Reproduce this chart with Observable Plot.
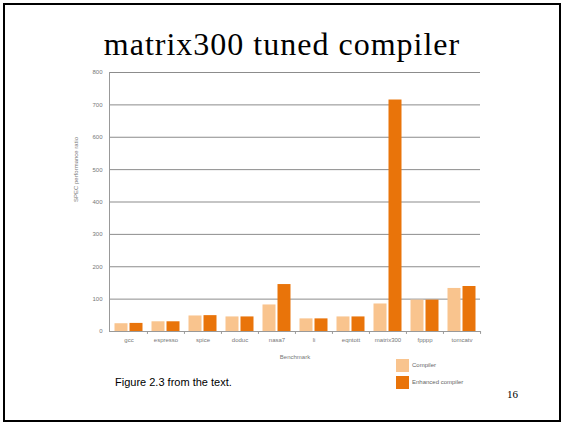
<!DOCTYPE html>
<html>
<head>
<meta charset="utf-8">
<script src="https://cdn.jsdelivr.net/npm/d3@7"></script>
<script src="https://cdn.jsdelivr.net/npm/@observablehq/plot@0.6"></script>
<style>
  html, body { margin: 0; padding: 0; background: #fff; }
  #slide { position: relative; width: 564px; height: 424px; overflow: hidden; background: #fff; }
  #frame { position: absolute; left: 3px; top: 3px; width: 554px; height: 415px; border: 2px solid #000; }
  #title { position: absolute; left: 0; width: 564px; top: 26px; text-align: center; line-height: 1.15;
           font-family: "Liberation Serif", "Times New Roman", serif; font-size: 32px; letter-spacing: 1px; color: #000; }
  #chart { position: absolute; left: 0; top: 0; }
  .leg { position: absolute; left: 396px; font-family: "Liberation Sans", Arial, sans-serif; font-size: 6px; color: #666; }
  .sw { display: inline-block; width: 13px; height: 13px; vertical-align: middle; margin-right: 3px; }
  #caption { position: absolute; left: 115px; top: 376px; font-family: "Liberation Sans", Arial, sans-serif; font-size: 11px; color: #000; }
  #page { position: absolute; left: 507px; top: 388px; font-family: "Liberation Serif", "Times New Roman", serif; font-size: 11px; color: #000; }
</style>
</head>
<body>
<div id="slide">
  <div id="frame"></div>
  <div id="title">matrix300 tuned compiler</div>
  <div id="chart"></div>
  <div class="leg" style="top:359px"><span class="sw" style="background:#F9C48E"></span>Compiler</div>
  <div class="leg" style="top:376px"><span class="sw" style="background:#E9740A"></span>Enhanced compiler</div>
  <div id="caption">Figure 2.3 from the text.</div>
  <div id="page">16</div>
</div>
<script>
const benchmarks = ["gcc", "espresso", "spice", "doduc", "nasa7", "li", "eqntott", "matrix300", "fpppp", "tomcatv"];
const compiler = [24, 30, 48, 45, 82, 39, 45, 85, 97, 133];
const enhanced = [25, 30, 49, 45, 145, 39, 45, 715, 97, 139];
const seriesNames = ["Compiler", "Enhanced compiler"];
const seriesColors = ["#F9C48E", "#E9740A"];
const yTicks = [0, 100, 200, 300, 400, 500, 600, 700, 800];

const compilerData = benchmarks.map((b, i) => ({benchmark: b, series: seriesNames[0], value: compiler[i]}));
const enhancedData = benchmarks.map((b, i) => ({benchmark: b, series: seriesNames[1], value: enhanced[i]}));

const chart = Plot.plot({
  width: 564,
  height: 424,
  marginLeft: 109,
  marginRight: 84,
  marginTop: 72,
  marginBottom: 93,
  style: {fontFamily: "Liberation Sans, Arial, sans-serif", background: "transparent"},
  x: {domain: benchmarks, padding: 0, label: "Benchmark"},
  y: {domain: [0, 800], ticks: yTicks, label: null},
  color: {domain: seriesNames, range: seriesColors},
  marks: [
    Plot.gridY(yTicks.filter(d => d > 0), {stroke: "#808080", strokeOpacity: 0.9, strokeWidth: 1}),
    Plot.axisY(yTicks, {tickSize: 0, tickPadding: 7, fontSize: 6, fill: "#777", label: null}),
    Plot.text(["SPEC performance ratio"], {frameAnchor: "left", dx: -33, rotate: -90, fontSize: 6, fill: "#777"}),
    Plot.axisX({tickSize: 0, tickPadding: 6, fontSize: 6, fill: "#777", label: "Benchmark", labelAnchor: "center", labelOffset: 27}),
    Plot.frame({anchor: "left", stroke: "#999"}),
    Plot.ruleX(benchmarks.slice(1), {x: d => d, y1: 0, y2: -9, dx: -18.55, stroke: "#999"}),
    Plot.ruleX(benchmarks.slice(-1), {x: d => d, y1: 0, y2: -9, dx: 18.55, stroke: "#999"}),
    Plot.barY(compilerData, {x: "benchmark", y: "value", fill: "series", insetLeft: 4.5, insetRight: 19.5}),
    Plot.barY(enhancedData, {x: "benchmark", y: "value", fill: "series", insetLeft: 19.5, insetRight: 4.5}),
    Plot.ruleY([0], {stroke: "#999", strokeWidth: 1})
  ]
});
document.getElementById("chart").appendChild(chart);
</script>
</body>
</html>
